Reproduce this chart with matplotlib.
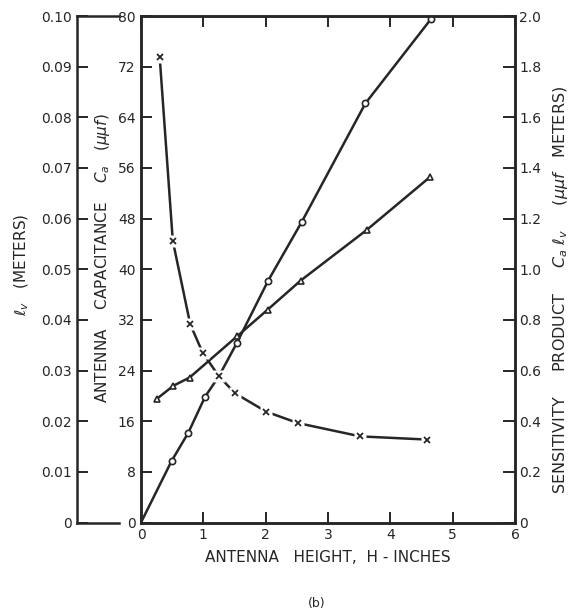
# Antenna height chart (b)
import matplotlib.pyplot as plt

# Valores (todos na escala da esquerda, Ca em uuf)
h_circ = [0, 0.49, 0.76, 1.03, 1.25, 1.54, 2.04, 2.58, 3.6, 4.65]
v_circ = [0, 9.7, 14.2, 19.9, 23.1, 28.4, 38.2, 47.5, 66.2, 79.5]

h_tri = [0.25, 0.52, 0.78, 1.54, 2.03, 2.56, 3.62, 4.64]
v_tri = [19.5, 21.6, 22.9, 29.4, 33.6, 38.2, 46.2, 54.6]

h_x = [0.3, 0.51, 0.79, 0.99, 1.25, 1.51, 2.01, 2.52, 3.52, 4.59]
v_x = [73.5, 44.5, 31.3, 26.8, 23.1, 20.4, 17.5, 15.7, 13.6, 13.1]

x_ticks = [0, 1, 2, 3, 4, 5, 6]
ca_ticks = [0, 8, 16, 24, 32, 40, 48, 56, 64, 72, 80]
lv_ticks = [0, 0.01, 0.02, 0.03, 0.04, 0.05, 0.06, 0.07, 0.08, 0.09, 0.10]
lv_labels = ['0', '0.01', '0.02', '0.03', '0.04', '0.05', '0.06', '0.07', '0.08', '0.09', '0.10']
sp_ticks = [0, 0.2, 0.4, 0.6, 0.8, 1.0, 1.2, 1.4, 1.6, 1.8, 2.0]
sp_labels = ['0', '0.2', '0.4', '0.6', '0.8', '1.0', '1.2', '1.4', '1.6', '1.8', '2.0']

ink = '#262626'
plt.rcParams['font.family'] = 'DejaVu Sans'
plt.rcParams['mathtext.fontset'] = 'dejavusans'

fig = plt.figure(figsize=(5.79, 6.13), dpi=100)

W, H = 579.0, 613.0
bottom = 1 - 522.5 / H
height = (522.5 - 16) / H

# eixo principal
ax = fig.add_axes([141 / W, bottom, (515 - 141) / W, height])
ax.set_xlim(0, 6)
ax.set_ylim(0, 80)
ax.set_xticks(x_ticks)
ax.set_yticks(ca_ticks)
ax.tick_params(direction='in', length=8, width=1.4, colors=ink, labelsize=10,
               top=True, pad=4)
for s in ax.spines.values():
    s.set_linewidth(1.8)
    s.set_color(ink)

# eixo da direita (produto de sensibilidade)
ax2 = ax.twinx()
ax2.set_ylim(0, 2.0)
ax2.set_yticks(sp_ticks)
ax2.set_yticklabels(sp_labels)
ax2.tick_params(direction='in', length=9, width=1.4, colors=ink, labelsize=10, pad=3)
for s in ax2.spines.values():
    s.set_linewidth(1.8)
    s.set_color(ink)

# eixo externo da esquerda (l_v)
ax3 = fig.add_axes([77 / W, bottom, (119 - 77) / W, height])
ax3.set_ylim(0, 0.10)
ax3.set_yticks(lv_ticks)
ax3.set_yticklabels(lv_labels)
ax3.set_xticks([])
ax3.spines['right'].set_visible(False)
for s in ax3.spines.values():
    s.set_linewidth(1.8)
    s.set_color(ink)
ax3.tick_params(direction='in', length=8, width=1.4, colors=ink, labelsize=10, pad=4)
ax3.patch.set_alpha(0)

# curvas
ax.plot(h_circ, v_circ, color=ink, lw=1.8, marker='o', ms=4.5, mfc='white',
        mec=ink, mew=1.2, markevery=list(range(1, len(h_circ))), zorder=3)
ax.plot(h_tri, v_tri, color=ink, lw=1.8, marker='^', ms=5, mfc='white',
        mec=ink, mew=1.2, zorder=3)
ax.plot(h_x, v_x, color=ink, lw=1.8, zorder=3)
ax.plot(h_x, v_x, ls='none', marker='s', ms=8, mfc='white', mec='none', zorder=4)
ax.plot(h_x, v_x, ls='none', marker='x', ms=5, mec=ink, mew=1.3, zorder=5)

# textos
ax.set_xlabel('ANTENNA   HEIGHT,  H - INCHES', fontsize=11, color=ink, labelpad=6)
fig.text(103 / W, 1 - 258 / H, r'ANTENNA    CAPACITANCE    $C_a$   $(\mu\mu f)$',
         rotation=90, ha='center', va='center', fontsize=11, color=ink)
fig.text(22 / W, 1 - 265 / H, r'$\ell_v$   (METERS)',
         rotation=90, ha='center', va='center', fontsize=11, color=ink)
fig.text(560 / W, 1 - 290 / H,
         r'SENSITIVITY     PRODUCT     $C_a\ \ell_v$     $(\mu\mu f$   METERS)',
         rotation=90, ha='center', va='center', fontsize=11.5, color=ink)
fig.text(317 / W, 1 - 604 / H, '(b)', ha='center', va='center', fontsize=9, color=ink)

fig.savefig('out.png', dpi=100)
